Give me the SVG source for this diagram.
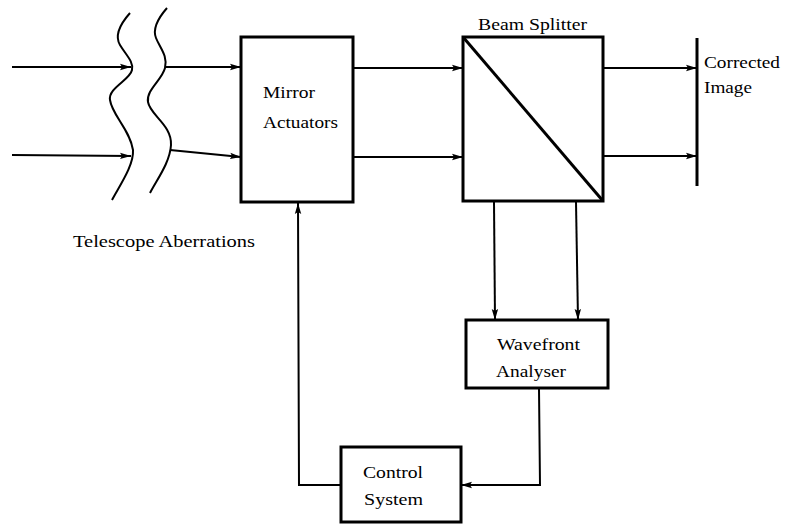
<svg xmlns="http://www.w3.org/2000/svg" width="785" height="524" viewBox="0 0 785 524">
<defs>
<marker id="ah" markerWidth="12" markerHeight="8" refX="11" refY="4" orient="auto" markerUnits="userSpaceOnUse">
<path d="M0,0.8 L11,4 L0,7.2 L2,4 Z" fill="#000"/>
</marker>
</defs>
<style>
.box{fill:#fff;stroke:#000;stroke-width:3}
.ln{fill:none;stroke:#000;stroke-width:2}
.ar{fill:none;stroke:#000;stroke-width:2;marker-end:url(#ah)}
.wave{fill:none;stroke:#000;stroke-width:2}
.t{font-family:'Liberation Serif','Times New Roman',serif;font-size:17px;fill:#000}
</style>
<rect width="785" height="524" fill="#fff"/>
<g id="aberrations">
<path class="wave" d="M130,13 C122,22 114,35 120,45 C126,55 134,62 132,70 C130,80 108,88 110,100 C112,115 130,130 133,150 C134,165 120,185 112,200"/>
<path class="wave" d="M167,8 C160,16 152,28 156,38 C160,48 168,56 165,68 C162,80 146,90 148,102 C150,115 172,125 171,145 C170,162 158,178 150,193"/>
<text class="t" font-family="Liberation Serif, serif" x="73" y="247" textLength="182" lengthAdjust="spacingAndGlyphs">Telescope Aberrations</text>
</g>
<g id="mirror">
<rect class="box" x="241" y="37" width="112" height="165"/>
<text class="t" font-family="Liberation Serif, serif" x="263" y="98" textLength="52" lengthAdjust="spacingAndGlyphs">Mirror</text>
<text class="t" font-family="Liberation Serif, serif" x="263" y="128" textLength="75" lengthAdjust="spacingAndGlyphs">Actuators</text>
</g>
<g id="splitter">
<rect class="box" x="463" y="37" width="140" height="164"/>
<line class="box" x1="463" y1="37" x2="603" y2="201"/>
<text class="t" font-family="Liberation Serif, serif" x="478" y="30" textLength="109" lengthAdjust="spacingAndGlyphs">Beam Splitter</text>
</g>
<g id="image">
<line x1="697" y1="38" x2="697" y2="186" stroke="#000" stroke-width="3"/>
<text class="t" font-family="Liberation Serif, serif" x="704" y="68" textLength="76" lengthAdjust="spacingAndGlyphs">Corrected</text>
<text class="t" font-family="Liberation Serif, serif" x="704" y="93" textLength="48" lengthAdjust="spacingAndGlyphs">Image</text>
</g>
<g id="wavefront">
<rect class="box" x="466" y="320" width="142" height="68"/>
<text class="t" font-family="Liberation Serif, serif" x="497" y="350" textLength="83" lengthAdjust="spacingAndGlyphs">Wavefront</text>
<text class="t" font-family="Liberation Serif, serif" x="496" y="377" textLength="70" lengthAdjust="spacingAndGlyphs">Analyser</text>
</g>
<g id="control">
<rect class="box" x="341" y="447" width="120" height="75"/>
<text class="t" font-family="Liberation Serif, serif" x="363" y="478" textLength="60" lengthAdjust="spacingAndGlyphs">Control</text>
<text class="t" font-family="Liberation Serif, serif" x="364" y="505" textLength="59" lengthAdjust="spacingAndGlyphs">System</text>
</g>
<g id="connectors">
<line class="ar" x1="12" y1="67" x2="131" y2="67"/>
<line class="ar" x1="12" y1="155" x2="131" y2="156"/>
<line class="ar" x1="166" y1="67" x2="241" y2="67"/>
<line class="ar" x1="170" y1="150" x2="241" y2="157"/>
<line class="ar" x1="354" y1="68" x2="463" y2="68"/>
<line class="ar" x1="354" y1="157" x2="463" y2="157"/>
<line class="ar" x1="604" y1="68" x2="697" y2="68"/>
<line class="ar" x1="604" y1="156" x2="697" y2="156"/>
<line class="ar" x1="494" y1="202" x2="495" y2="320"/>
<line class="ar" x1="576" y1="202" x2="578" y2="320"/>
<polyline class="ar" points="539,389 540,485 461,485"/>
<polyline class="ar" points="341,485 299,485 298,203"/>
</g>
</svg>
